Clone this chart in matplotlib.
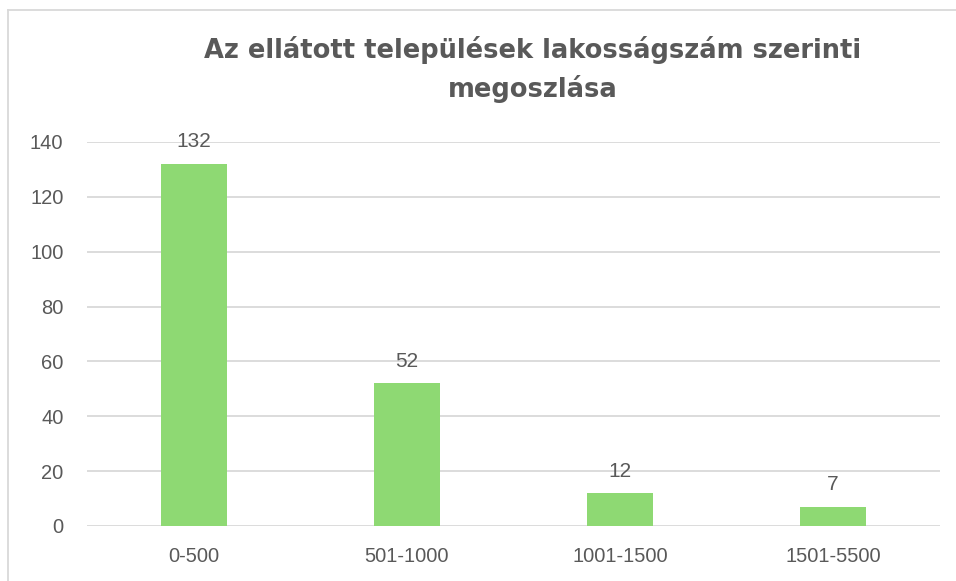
import matplotlib
matplotlib.use("Agg")
import matplotlib.pyplot as plt
from matplotlib.lines import Line2D

# Chart data
categories = ["0-500", "501-1000", "1001-1500", "1501-5500"]
values = [132, 52, 12, 7]
title = "Az ellátott települések lakosságszám szerinti\nmegoszlása"

text_color = "#595959"
grid_color = "#D9D9D9"
bar_color = "#8ED973"

plt.rcParams["font.family"] = ["Liberation Sans", "DejaVu Sans"]

fig = plt.figure(figsize=(9.56, 5.81), dpi=100)
ax = fig.add_axes([0.091, 0.0947, 0.892, 0.661])

x = range(len(categories))
bars = ax.bar(x, values, width=0.31, color=bar_color, zorder=3)

# Value labels above bars
for xi, v in zip(x, values):
    ax.annotate(str(v), (xi, v), xytext=(0, 9), textcoords="offset points",
                ha="center", va="bottom", fontsize=15, color=text_color)

ax.set_xlim(-0.5, len(categories) - 0.5)
ax.set_ylim(0, 140)
ax.set_yticks(range(0, 141, 20))
ax.set_xticks(list(x))
ax.set_xticklabels(categories)
ax.tick_params(axis="both", length=0, labelsize=14.5, labelcolor=text_color)
ax.tick_params(axis="y", pad=17)
ax.tick_params(axis="x", pad=15)
ax.yaxis.grid(True, color=grid_color, linewidth=1.3, zorder=0)
for s in ax.spines.values():
    s.set_visible(False)

fig.text(0.557, 0.938, title, ha="center", va="top", fontsize=18.5,
         fontweight="bold", color=text_color, linespacing=1.5,
         family=["DejaVu Sans"])

# Chart area border (top and left visible in the crop)
fig.add_artist(Line2D([0.0085, 1.0], [0.983, 0.983], color=grid_color, linewidth=1.3))
fig.add_artist(Line2D([0.0085, 0.0085], [0.0, 0.983], color=grid_color, linewidth=1.3))

fig.savefig("out.png", dpi=100)
